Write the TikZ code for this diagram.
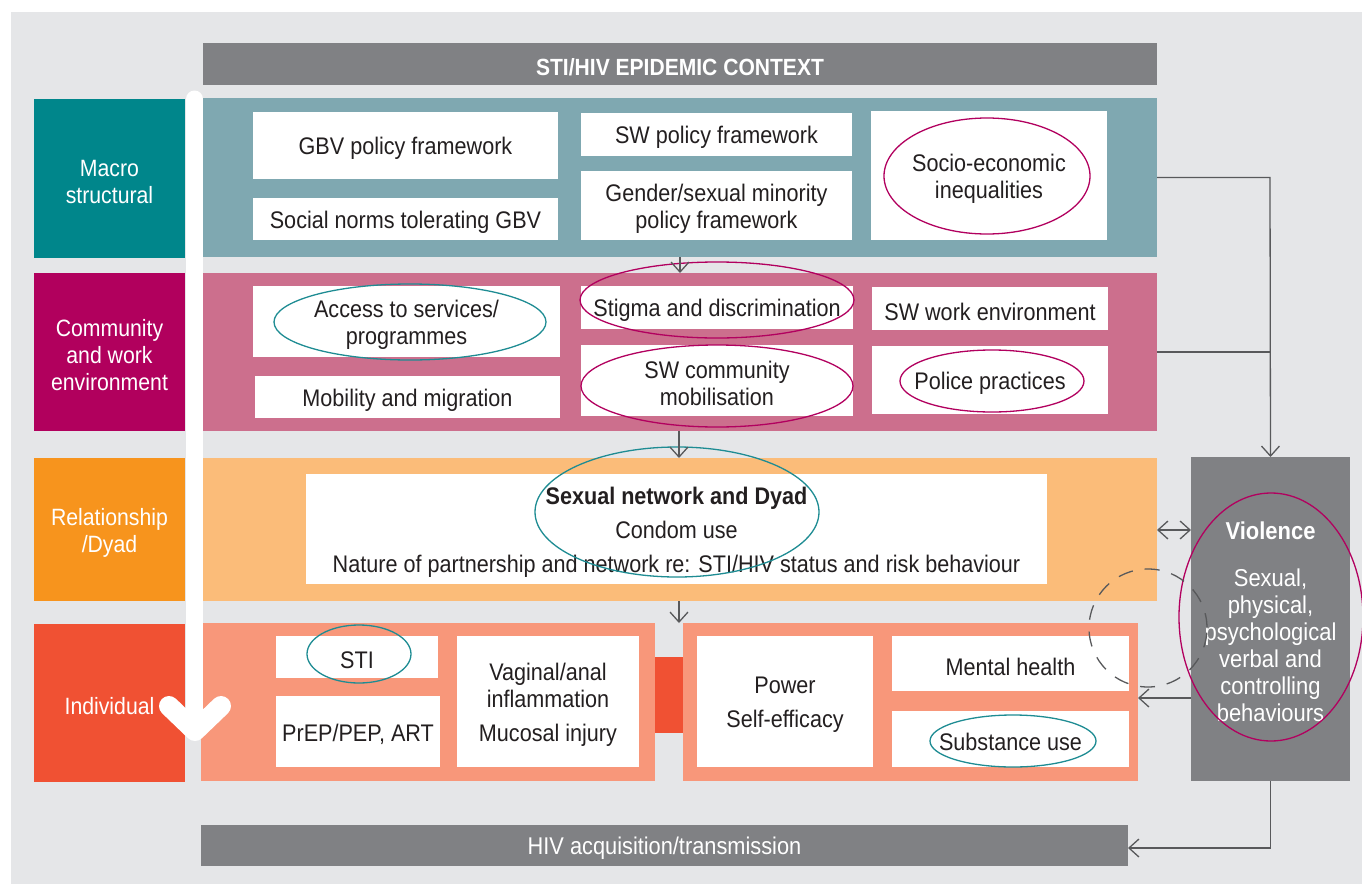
\documentclass[tikz,border=0pt]{standalone}
\usepackage{fontspec}
\setmainfont{Liberation Sans}[FakeStretch=0.9]
\usetikzlibrary{arrows.meta}
\definecolor{bggrey}{HTML}{E5E6E8}
\definecolor{dgrey}{HTML}{808184}
\definecolor{tealL}{HTML}{00868B}
\definecolor{tealB}{HTML}{7FA8B1}
\definecolor{magL}{HTML}{B1005D}
\definecolor{magB}{HTML}{CC6F8D}
\definecolor{oraL}{HTML}{F7941D}
\definecolor{oraB}{HTML}{FBBC79}
\definecolor{redL}{HTML}{F05133}
\definecolor{redB}{HTML}{F8977A}
\definecolor{lineg}{HTML}{58595B}
\definecolor{ellmag}{HTML}{B2005F}
\definecolor{elltea}{HTML}{1E8C93}
\definecolor{txt}{HTML}{231F20}
\newcommand\mybox[7]{%
  \pgfmathsetmacro\cxx{(#2+#4)/2}\pgfmathsetmacro\cyy{(#3+#5)/2}%
  \pgfmathsetmacro\ww{(#4-#2)*0.5}\pgfmathsetmacro\hh{(#5-#3)*0.5}%
  \node[#6, minimum width=\ww pt, minimum height=\hh pt] (#1) at (\cxx,\cyy) {};
  \node[#6, fill=none] (#1-t) at (\cxx,\cyy+3) {#7};}
\begin{document}
\begin{tikzpicture}[x=0.5pt,y=-0.5pt,
  base/.style={inner sep=0pt, outer sep=0pt, align=center},
  lbl/.style={base, text=white, font=\fontsize{11.8}{13.5}\selectfont},
  band/.style={base},
  wbox/.style={base, fill=white, text=txt, font=\fontsize{12}{13.5}\selectfont},
  banner/.style={base, fill=dgrey, text=white},
  arr/.style={draw=lineg, line width=0.65pt, -{Straight Barb[length=5pt,width=9pt]}},
  plain/.style={draw=lineg, line width=0.65pt},
  ellm/.style={draw=ellmag, line width=0.65pt},
  ellt/.style={draw=elltea, line width=0.65pt}]
\useasboundingbox (0,0) rectangle (1362,884);
\fill[bggrey] (11,12) rectangle (1362,884);

% banners
\mybox{top}{203}{43}{1157}{85}{banner, font=\bfseries\fontsize{11.7}{13}\selectfont}{STI/HIV EPIDEMIC CONTEXT}
\mybox{hiv}{201}{825}{1128}{866}{banner, font=\fontsize{12.1}{13}\selectfont}{HIV acquisition/transmission}

% level labels
\mybox{macroL}{34}{99}{185}{258}{lbl, fill=tealL}{Macro\\structural}
\mybox{commL}{34}{273}{185}{431}{lbl, fill=magL}{Community\\and work\\environment}
\mybox{relL}{34}{458}{185}{601}{lbl, fill=oraL}{Relationship\\/Dyad}
\mybox{indLbl}{34}{624}{185}{782}{lbl, fill=redL}{Individual}

% bands
\mybox{macro}{203}{98}{1157}{257}{band, fill=tealB}{}
\mybox{comm}{203}{273}{1157}{431}{band, fill=magB}{}
\mybox{rel}{203}{458}{1157}{601}{band, fill=oraB}{}
\mybox{indA}{201}{623}{655}{781}{band, fill=redB}{}
\mybox{indB}{683}{623}{1138}{781}{band, fill=redB}{}
\mybox{link}{655}{657}{683}{733}{band, fill=redL}{}

% violence
\mybox{viol}{1191}{457}{1350}{781}{banner, font=\fontsize{12.2}{13.5}\selectfont}{{\bfseries Violence}\\[10pt]Sexual,\\physical,\\psychological\\verbal and\\controlling\\behaviours}

% macro boxes
\mybox{gbv}{253}{112}{558}{179}{wbox}{GBV policy framework}
\mybox{norms}{253}{198}{558}{240}{wbox}{Social norms tolerating GBV}
\mybox{swpol}{581}{113}{852}{156}{wbox}{SW policy framework}
\mybox{gender}{581}{171}{852}{240}{wbox}{Gender/sexual minority\\policy framework}
\mybox{socio}{871}{111}{1107}{240}{wbox}{Socio-economic\\inequalities}

% community boxes
\mybox{access}{253}{286}{560}{357}{wbox}{Access to services/\\programmes}
\mybox{mobil}{255}{376}{560}{418}{wbox}{Mobility and migration}
\mybox{stigma}{581}{286}{853}{329}{wbox}{Stigma and discrimination}
\mybox{swcom}{581}{345}{853}{416}{wbox}{SW community\\mobilisation}
\mybox{swwork}{872}{287}{1108}{330}{wbox}{SW work environment}
\mybox{police}{872}{346}{1108}{414}{wbox}{Police practices}

% relationship box
\mybox{sexnet}{306}{474}{1047}{584}{wbox}{{\bfseries Sexual network and Dyad}\\[3.5pt]Condom use\\[3.5pt]Nature of partnership and network re: STI/HIV status and risk behaviour}

% individual boxes
\mybox{sti}{276}{636}{438}{678}{wbox}{STI}
\mybox{prep}{276}{696}{440}{767}{wbox}{PrEP/PEP, ART}
\mybox{vag}{457}{636}{639}{767}{wbox}{Vaginal/anal\\inflammation\\[3.5pt]Mucosal injury}
\mybox{power}{697}{636}{873}{767}{wbox}{Power\\[3.5pt]Self-efficacy}
\mybox{mental}{892}{636}{1129}{691}{wbox}{Mental health}
\mybox{subst}{892}{711}{1129}{767}{wbox}{Substance use}

% ellipses
\draw[ellm] (987,176) ellipse [x radius=51.5pt, y radius=29pt];
\draw[ellt] (410,322) ellipse [x radius=68pt, y radius=19pt];
\draw[ellm] (717,300) ellipse [x radius=68.5pt, y radius=19pt];
\draw[ellm] (717,386) ellipse [x radius=68pt, y radius=20.5pt];
\draw[ellm] (992,381) ellipse [x radius=46pt, y radius=15.5pt];
\draw[ellt] (677,512) ellipse [x radius=71pt, y radius=32.5pt];
\draw[ellt] (359,654) ellipse [x radius=26pt, y radius=14.5pt];
\draw[ellt] (1013,741) ellipse [x radius=41.5pt, y radius=13pt];
\draw[ellm] (1271,617) ellipse [x radius=46pt, y radius=62pt];

% dashed circle
\draw[draw=lineg, line width=0.65pt, dash pattern=on 7.5pt off 6pt] (1148,628) circle [radius=29.5pt];

% connectors
\coordinate (cx) at (680,0);
\coordinate (cy) at (679,0);
\coordinate (vx) at (1270,0);
\coordinate (yA) at (0,530);
\coordinate (yB) at (0,698);
\coordinate (yH) at (0,848);
\draw[arr] (macro.south -| cx) -- (comm.north -| cx);
\draw[arr] (comm.south -| cy) -- (rel.north -| cy);
\draw[arr] (rel.south -| cy) -- (indA.north -| cy);
\draw[arr] (macro.east) -- (macro.east -| vx) -- (viol.north);
\draw[plain] (comm.east) -- (comm.east -| vx);
\draw[draw=lineg, line width=0.65pt, {Straight Barb[length=5pt,width=9pt]}-{Straight Barb[length=5pt,width=9pt]}] (rel.east |- yA) -- (viol.west |- yA);
\draw[arr] (viol.west |- yB) -- (indB.east |- yB);
\draw[arr] (viol.south) -- (viol.south |- yH) -- (hiv.east |- yH);

% white flow arrow
\coordinate (wtop) at (194.5,99);
\coordinate (wtip) at (195,731);
\coordinate (wl) at (169,706);
\coordinate (wr) at (221,706);
\draw[white, line width=8.5pt, line cap=round] (wtop) -- (194.5,725);
\draw[white, line width=10pt, line cap=round, line join=round] (wl) -- (wtip) -- (wr);
\end{tikzpicture}
\end{document}
